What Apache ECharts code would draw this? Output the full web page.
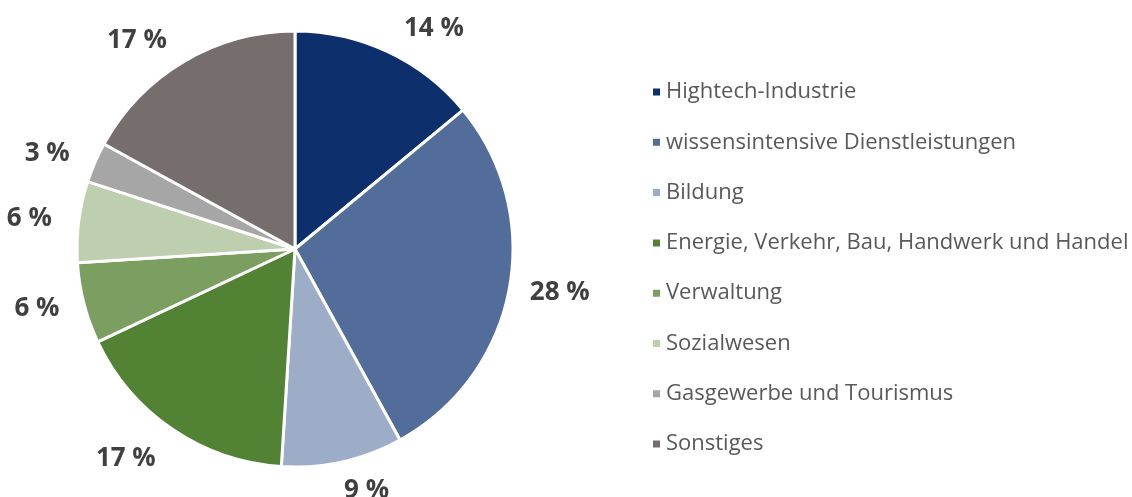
<!DOCTYPE html>
<html lang="de">
<head>
    <meta charset="UTF-8">
    <title>Anteile</title>
    <style>
        html,
        body {
            margin: 0;
            padding: 0;
            width: 100%;
            height: 100%;
            background: #fff;
        }

        #chart {
            width: 1132px;
            height: 497px;
        }
    </style>
</head>
<body>
<div id="chart"></div>
<script src="https://cdn.jsdelivr.net/npm/echarts@6.0.0/dist/echarts.min.js"></script>
<script>
    const categories = [
        'Hightech-Industrie',
        'wissensintensive Dienstleistungen',
        'Bildung',
        'Energie, Verkehr, Bau, Handwerk und Handel',
        'Verwaltung',
        'Sozialwesen',
        'Gasgewerbe und Tourismus',
        'Sonstiges'
    ]
    const shares = [14, 28, 9, 17, 6, 6, 3, 17]
    const colors = ['#0d2f6b', '#536d9a', '#9dadc8', '#528233', '#7a9f61', '#bdcfae', '#a6a6a6', '#756e6c']
    // distance of each percentage label from the pie edge, plus sideways shift
    const labelGaps = [26, 16, 30, 35, 20, 22, 22, 24]
    const labelShift = [0, 0, -10, -8, 0, 0, 0, 0]

    const chart = echarts.init(document.getElementById('chart'))

    const data = categories.map((name, i) => ({
        name,
        value: shares[i],
        itemStyle: { color: colors[i] },
        labelLine: { length: labelGaps[i], length2: labelShift[i] }
    }))

    chart.setOption({
        animation: false,
        legend: {
            orient: 'vertical',
            left: 646,
            top: 76,
            itemWidth: 9,
            itemHeight: 9,
            itemGap: 28.3,
            icon: 'rect',
            selectedMode: false,
            textStyle: {
                fontFamily: 'Open Sans',
                fontSize: 22,
                lineHeight: 22,
                color: '#595959'
            },
            data: categories
        },
        series: [{
            type: 'pie',
            center: [295, 249],
            radius: 218,
            startAngle: 90,
            clockwise: true,
            avoidLabelOverlap: false,
            itemStyle: {
                borderColor: '#fff',
                borderWidth: 3
            },
            label: {
                show: true,
                position: 'outside',
                formatter: '{c} %',
                fontFamily: 'Open Sans',
                fontWeight: 'bold',
                fontSize: 26,
                color: '#404040'
            },
            labelLine: {
                show: false,
                length: 22,
                length2: 0
            },
            emphasis: { disabled: true },
            data
        }]
    })
</script>
</body>
</html>
